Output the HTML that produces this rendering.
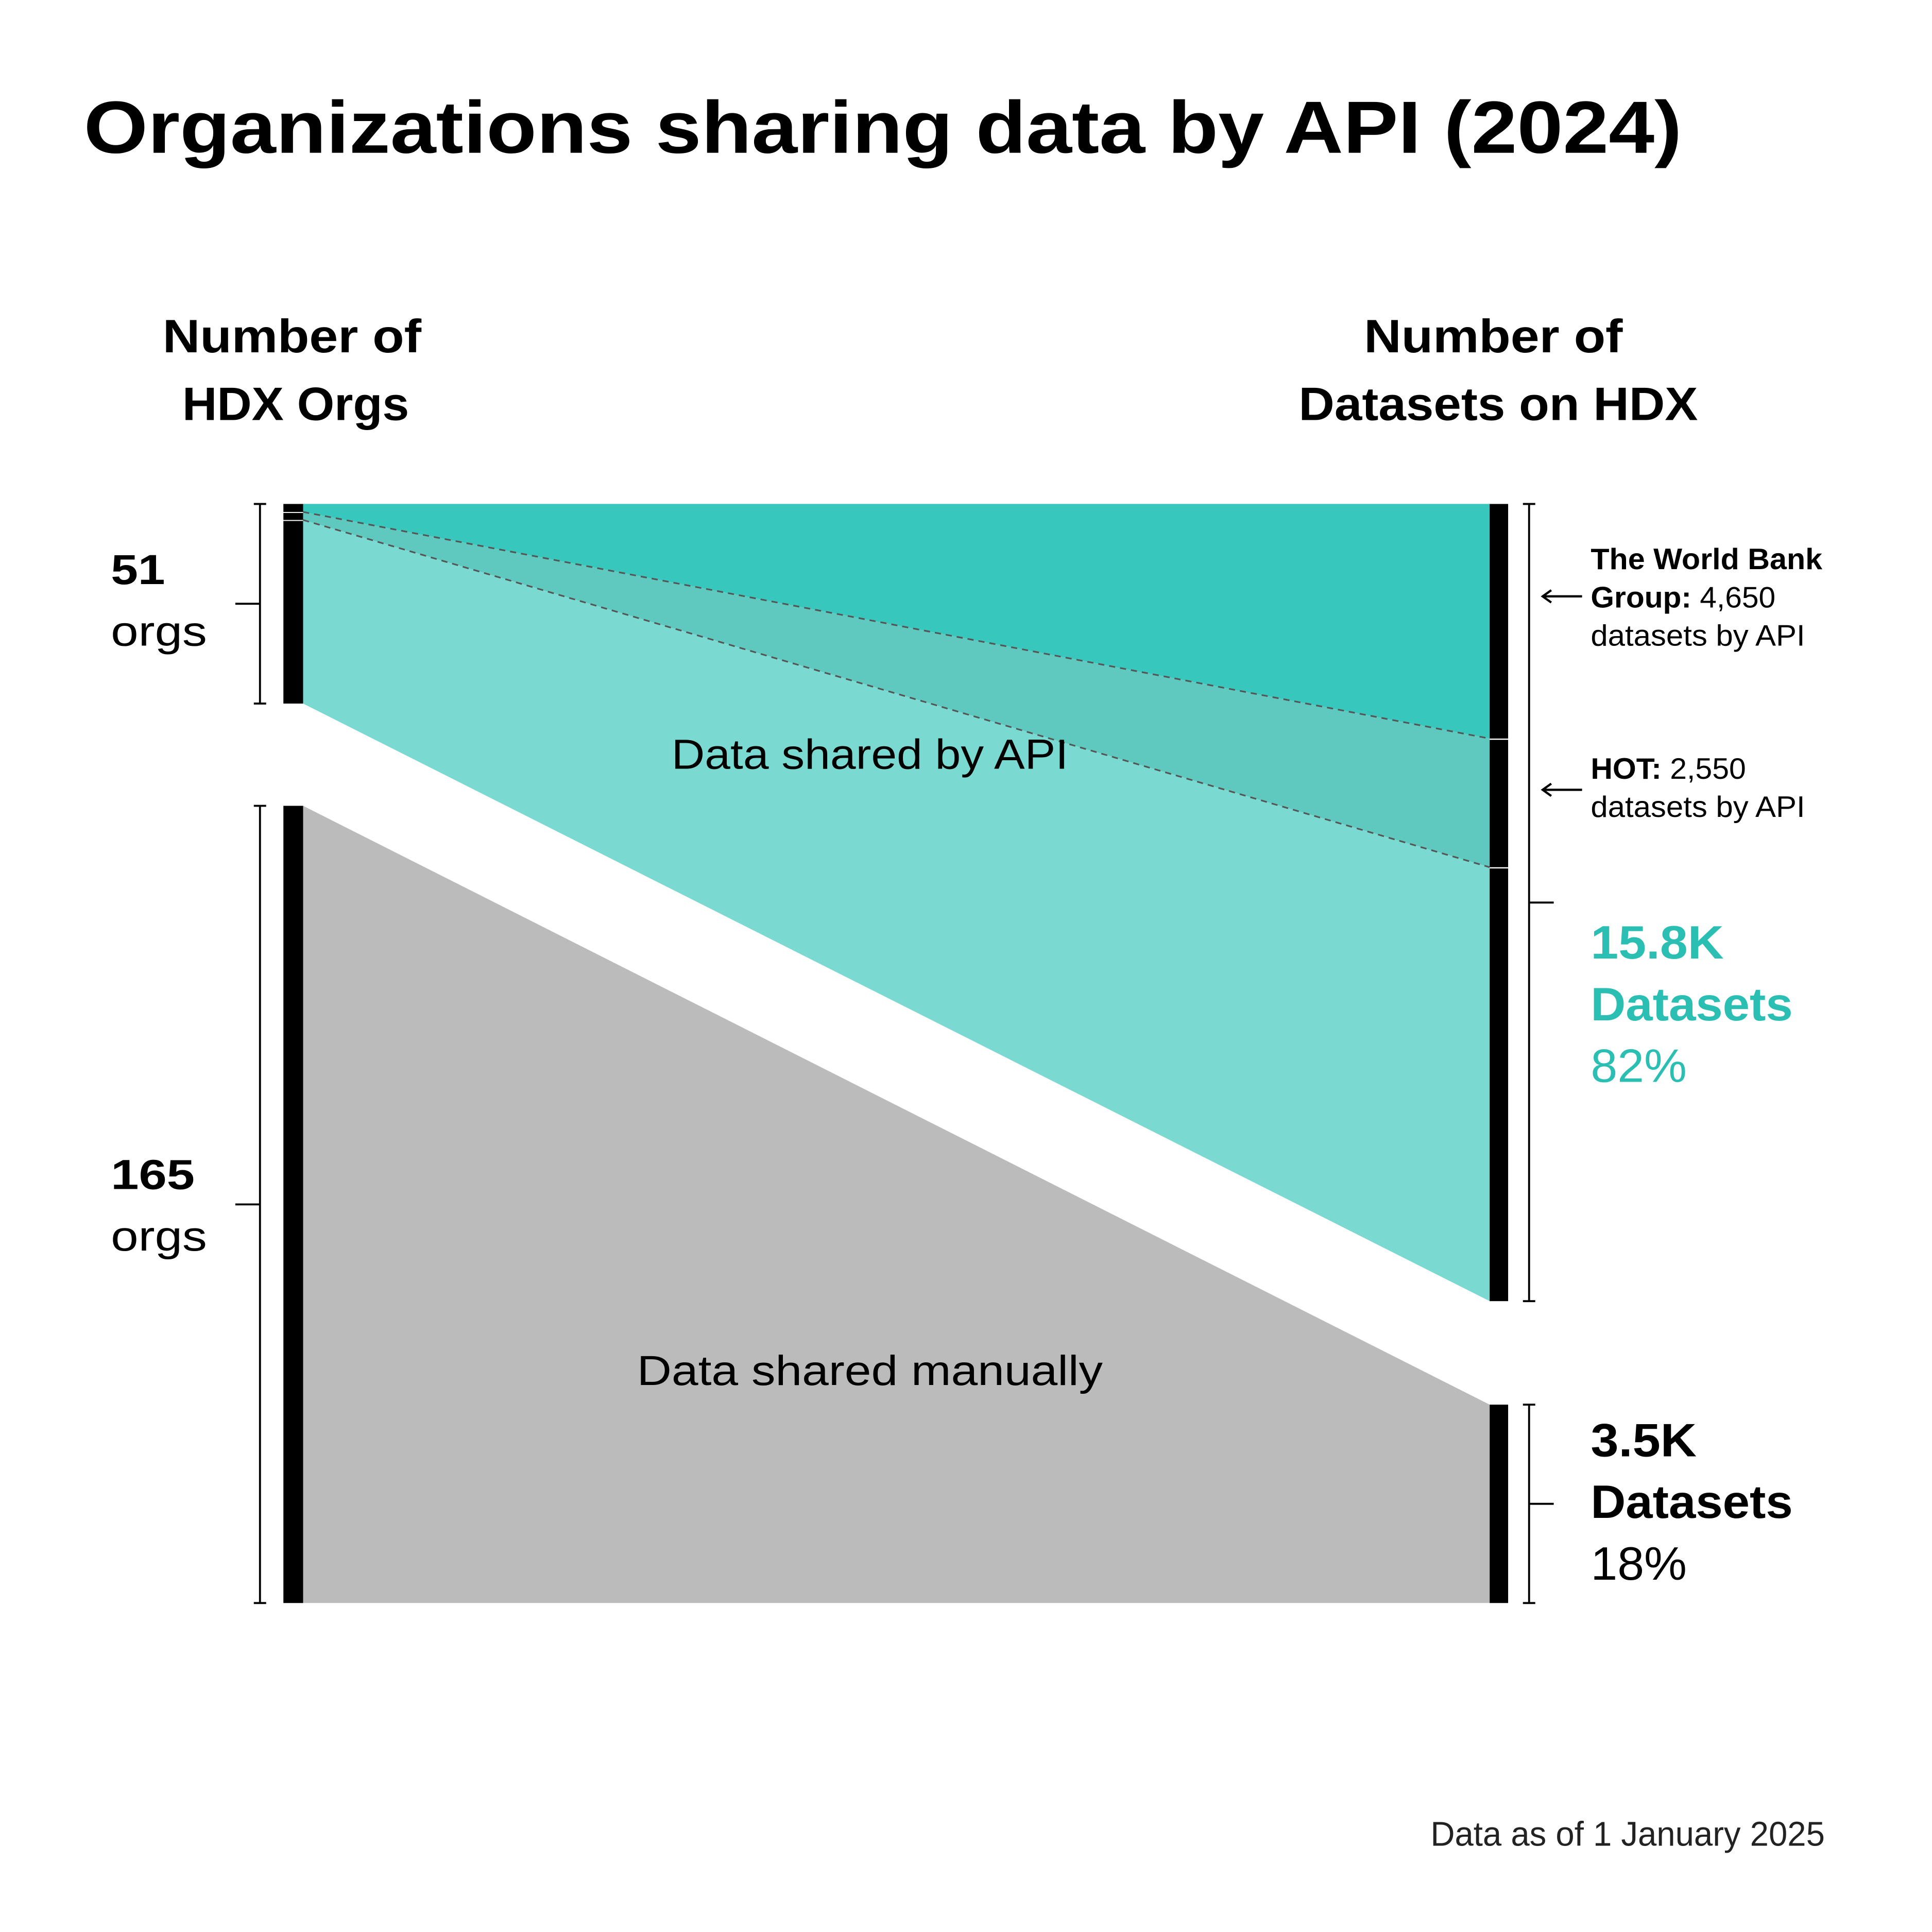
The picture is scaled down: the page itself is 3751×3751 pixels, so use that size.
<!DOCTYPE html>
<html><head><meta charset="utf-8">
<style>
html,body{margin:0;padding:0;background:#fff;}
svg{display:block;}
text{font-family:"Liberation Sans",sans-serif;}
</style></head>
<body>
<svg id="chart" width="3751" height="3751" viewBox="0 0 1568 1568" xmlns="http://www.w3.org/2000/svg">
<text x="68" y="124" font-size="60" font-weight="bold" textLength="1297" lengthAdjust="spacingAndGlyphs">Organizations sharing data by API (2024)</text>
<g font-size="38" font-weight="bold" text-anchor="middle">
<text x="237" y="286" textLength="210" lengthAdjust="spacingAndGlyphs">Number of</text>
<text x="240" y="341" textLength="184" lengthAdjust="spacingAndGlyphs">HDX Orgs</text>
</g>
<g font-size="38" font-weight="bold" text-anchor="middle">
<text x="1212" y="286" textLength="210" lengthAdjust="spacingAndGlyphs">Number of</text>
<text x="1216" y="341" textLength="324" lengthAdjust="spacingAndGlyphs">Datasets on HDX</text>
</g>
<g id="flows"></g>
<g id="bars"></g>
<g id="brackets" stroke="#000" stroke-width="1.6" fill="none"></g>
<g font-size="34" text-anchor="middle">
<text x="706" y="624" textLength="322" lengthAdjust="spacingAndGlyphs">Data shared by API</text>
<text x="706" y="1124" textLength="378" lengthAdjust="spacingAndGlyphs">Data shared manually</text>
</g>
<g font-size="34">
<text x="90" y="474" font-weight="bold" textLength="44" lengthAdjust="spacingAndGlyphs">51</text>
<text x="90" y="524" textLength="78" lengthAdjust="spacingAndGlyphs">orgs</text>
<text x="90" y="965" font-weight="bold" textLength="68" lengthAdjust="spacingAndGlyphs">165</text>
<text x="90" y="1015" textLength="78" lengthAdjust="spacingAndGlyphs">orgs</text>
</g>
<g font-size="24">
<text x="1291" y="462" font-weight="bold" textLength="188" lengthAdjust="spacingAndGlyphs">The World Bank</text>
<text x="1291" y="493" textLength="150" lengthAdjust="spacingAndGlyphs"><tspan font-weight="bold">Group:</tspan> 4,650</text>
<text x="1291" y="524" textLength="174" lengthAdjust="spacingAndGlyphs">datasets by API</text>
<text x="1291" y="632" textLength="126" lengthAdjust="spacingAndGlyphs"><tspan font-weight="bold">HOT:</tspan> 2,550</text>
<text x="1291" y="663" textLength="174" lengthAdjust="spacingAndGlyphs">datasets by API</text>
<g stroke="#000" stroke-width="1.8" fill="none">
<path d="M1252 484 H1284 M1259 479 L1252 484 L1259 489"/>
<path d="M1252 641 H1284 M1259 636 L1252 641 L1259 646"/>
</g>
</g>
<g font-size="38" fill="#2bbfb3">
<text x="1291" y="778" font-weight="bold" textLength="108" lengthAdjust="spacingAndGlyphs">15.8K</text>
<text x="1291" y="828" font-weight="bold" textLength="164" lengthAdjust="spacingAndGlyphs">Datasets</text>
<text x="1291" y="878" textLength="78" lengthAdjust="spacingAndGlyphs">82%</text>
</g>
<g font-size="38">
<text x="1291" y="1182" font-weight="bold" textLength="86" lengthAdjust="spacingAndGlyphs">3.5K</text>
<text x="1291" y="1232" font-weight="bold" textLength="164" lengthAdjust="spacingAndGlyphs">Datasets</text>
<text x="1291" y="1282" textLength="78" lengthAdjust="spacingAndGlyphs">18%</text>
</g>
<text x="1481" y="1498" font-size="28" text-anchor="end" fill="#222" textLength="320" lengthAdjust="spacingAndGlyphs">Data as of 1 January 2025</text>
</svg>
<script>
// Data
const flowNames = ['world-bank', 'hot', 'other-api', 'manual'];
const orgCounts = [1, 1, 49, 165];
const datasetCounts = [4650, 2550, 8600, 3500];
const flowColors = ['#38c7bc', '#5fc9c0', '#7ad9d1', '#bbbbbc'];

const NS = 'http://www.w3.org/2000/svg';
const flows = document.getElementById('flows');
const bars = document.getElementById('bars');
const brackets = document.getElementById('brackets');
const xL0 = 230, xL1 = 246, xR0 = 1209, xR1 = 1224;

// axis scales: API block and manual block, each side
const apiOrgs = orgCounts[0] + orgCounts[1] + orgCounts[2];
const apiData = datasetCounts[0] + datasetCounts[1] + datasetCounts[2];
function leftY(i) { // returns [top,bottom]
  if (i < 3) {
    const k = 162 / (apiOrgs + 2.5);
    let t = 409; for (let j = 0; j < i; j++) t += orgCounts[j] * k + 1.25 * (j < 2 ? 1 : 0);
    const extra = orgCounts[i] * k + (i < 2 ? 5 : 0);
    return [t, i === 2 ? 571 : t + extra];
  }
  const k = 647 / orgCounts[3];
  return [654, 654 + orgCounts[3] * k];
}
function leftYs() {
  const k = 162 / apiOrgs;
  const a = 409, b = 409 + 6, c = 415 + 7;
  return [[a, b - 0.7], [b + 0.7, c - 0.7], [c + 0.7, 571], [654, 654 + orgCounts[3] * (647 / orgCounts[3])]];
}
function rightYs() {
  const k = 647 / apiData;
  const out = []; let t = 409;
  for (let i = 0; i < 3; i++) { const h = datasetCounts[i] * k; out.push([t, t + h]); t += h; }
  const km = 161 / datasetCounts[3];
  out.push([1301 - datasetCounts[3] * km, 1301]);
  return out;
}
// left uses tiny fixed segments for single orgs, scaled by counts for rest
function leftScale() {
  const unit = 6.5; const out = []; let t = 409;
  for (let i = 0; i < 3; i++) {
    const h = i < 2 ? orgCounts[i] * unit : (162 - (orgCounts[0] + orgCounts[1]) * unit);
    out.push([t, t + h]); t += h;
  }
  const k = 647 / 165;
  out.push([654, 654 + orgCounts[3] * k]);
  return out;
}
const L = leftScale(), R = rightYs();

for (let i = 0; i < 4; i++) {
  const p = document.createElementNS(NS, 'path');
  p.setAttribute('d', `M${xL1} ${L[i][0]} L${xR0} ${R[i][0]} L${xR0} ${R[i][1]} L${xL1} ${L[i][1]} Z`);
  p.setAttribute('fill', flowColors[i]);
  
  
  flows.appendChild(p);
}
for (let i = 0; i < 2; i++) {
  const d = document.createElementNS(NS, 'line');
  d.setAttribute('x1', xL1); d.setAttribute('y1', L[i][1]);
  d.setAttribute('x2', xR0); d.setAttribute('y2', R[i][1]);
  d.setAttribute('stroke', '#555'); d.setAttribute('stroke-width', '1.3');
  d.setAttribute('stroke-dasharray', '5 4');
  
  
  flows.appendChild(d);
}
for (let i = 0; i < 4; i++) {
  const a = document.createElementNS(NS, 'rect');
  a.setAttribute('x', xL0); a.setAttribute('width', xL1 - xL0);
  a.setAttribute('y', L[i][0] + (i > 0 && i < 3 ? 0.8 : 0));
  a.setAttribute('height', Math.max(1, L[i][1] - L[i][0] - (i > 0 && i < 3 ? 0.8 : 0)));
  a.setAttribute('fill', '#000');
  
  
  bars.appendChild(a);
  const b = document.createElementNS(NS, 'rect');
  b.setAttribute('x', xR0); b.setAttribute('width', xR1 - xR0);
  b.setAttribute('y', R[i][0] + (i > 0 && i < 3 ? 1 : 0));
  b.setAttribute('height', R[i][1] - R[i][0] - (i > 0 && i < 3 ? 1 : 0));
  b.setAttribute('fill', '#000');
  
  
  bars.appendChild(b);
}
function bracket(x, y0, y1, tickDir, name) {
  const p = document.createElementNS(NS, 'path');
  const m = (y0 + y1) / 2;
  p.setAttribute('d', `M${x - 5} ${y0} H${x + 5} M${x} ${y0} V${y1} M${x - 5} ${y1} H${x + 5} M${x} ${m} H${x + tickDir * 20}`);
  
  
  brackets.appendChild(p);
}
bracket(211, L[0][0], L[2][1], -1, 'bracket-api-orgs');
bracket(211, L[3][0], L[3][1], -1, 'bracket-manual-orgs');
bracket(1241, R[0][0], R[2][1], 1, 'bracket-api-datasets');
bracket(1241, R[3][0], R[3][1], 1, 'bracket-manual-datasets');
</script>
</body></html>
